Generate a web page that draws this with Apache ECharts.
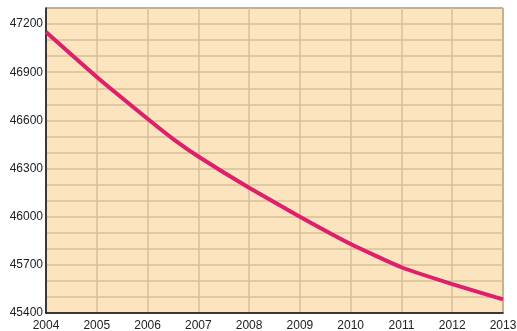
<!DOCTYPE html>
<html>
<head>
<meta charset="utf-8">
<script src="https://cdn.jsdelivr.net/npm/echarts@6/dist/echarts.min.js"></script>
<style>
  html, body { margin: 0; padding: 0; background: #ffffff; }
  #chart { width: 517px; height: 331px; }
</style>
</head>
<body>
<div id="chart"></div>
<script>
// Population by year (mid-2006 reading included where the trend bends)
const years = [2004, 2005, 2006, 2006.5, 2007, 2008, 2009, 2010, 2011, 2012, 2013];
const population = [47150, 46870, 46610, 46485, 46375, 46180, 46000, 45830, 45685, 45580, 45485];
const yearTicks = [2004, 2005, 2006, 2007, 2008, 2009, 2010, 2011, 2012, 2013];
const valueTicks = [45400, 45700, 46000, 46300, 46600, 46900, 47200];

const chart = echarts.init(document.getElementById('chart'));
chart.setOption({
  animation: false,
  grid: {
    left: 46, right: 14, top: 8, bottom: 18,
    containLabel: false,
    outerBoundsMode: 'none',
    show: true,
    backgroundColor: '#FCE4BF',
    borderColor: '#222222',
    borderWidth: 1
  },
  xAxis: {
    type: 'value',
    min: yearTicks[0],
    max: yearTicks[yearTicks.length - 1],
    interval: 1,
    axisLine: { show: true, lineStyle: { color: '#111', width: 1.5 } },
    axisTick: { show: false },
    axisLabel: {
      color: '#222',
      fontFamily: 'Liberation Sans, Arial, sans-serif',
      fontSize: 12,
      margin: 7,
      showMinLabel: true,
      showMaxLabel: true,
      formatter: v => yearTicks.includes(v) ? String(v) : ''
    },
    splitLine: { show: true, lineStyle: { color: '#D9BE98', width: 1.5 } }
  },
  yAxis: {
    type: 'value',
    min: 45400,
    max: 47300,
    interval: 100,
    axisLine: { show: true, lineStyle: { color: '#111', width: 1.5 } },
    axisTick: { show: false },
    axisLabel: {
      color: '#222',
      fontFamily: 'Liberation Sans, Arial, sans-serif',
      fontSize: 12,
      margin: 3,
      padding: [0, 0, 6, 0],
      formatter: v => valueTicks.includes(v) ? String(v) : ''
    },
    splitLine: { show: true, lineStyle: { color: '#D9BE98', width: 1.5 } }
  },
  series: [{
    type: 'line',
    data: years.map((y, i) => [y, population[i]]),
    showSymbol: false,
    smooth: 0.15,
    lineStyle: { color: '#DD1F6C', width: 4 },
    clip: true
  }]
});
</script>
</body>
</html>
